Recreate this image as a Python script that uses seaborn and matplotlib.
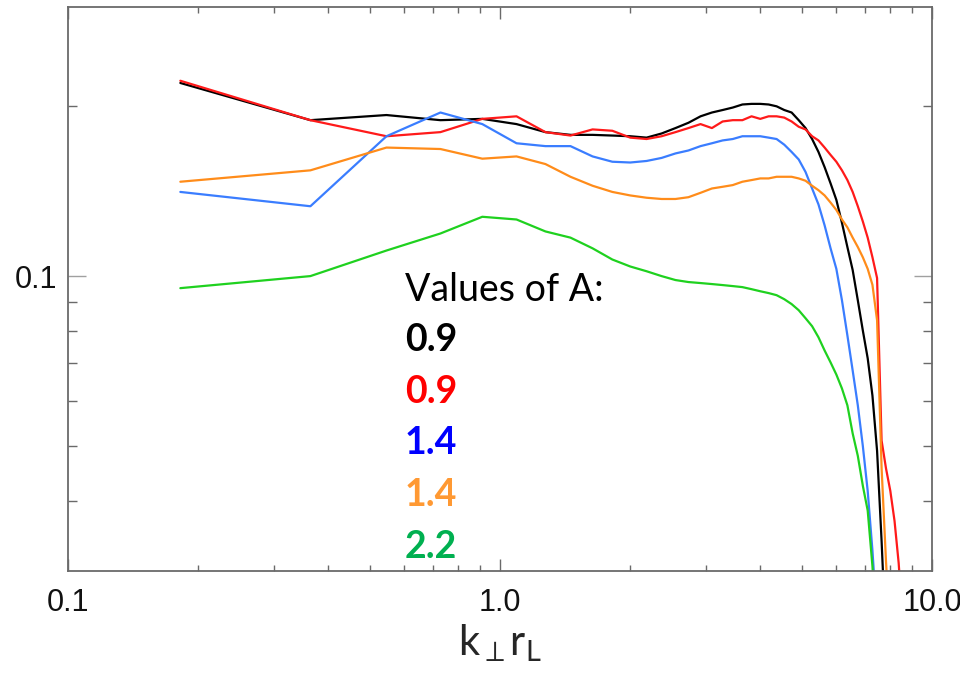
import numpy as np
import pandas as pd
import matplotlib
matplotlib.use("Agg")
import matplotlib.pyplot as plt
import matplotlib.ticker as mticker
import seaborn as sns

# Perpendicular wavenumber grid (k_perp * r_L)
k = [0.182, 0.364, 0.546, 0.728, 0.910, 1.092, 1.274, 1.456, 1.638, 1.820,
     2.002, 2.184, 2.366, 2.548, 2.730, 2.912, 3.094, 3.276, 3.458, 3.640,
     3.822, 4.004, 4.186, 4.368, 4.550, 4.732, 4.914, 5.096, 5.278, 5.460,
     5.642, 5.824, 6.006, 6.188, 6.370, 6.552, 6.734, 6.916, 7.098, 7.280,
     7.462, 7.644, 7.826, 8.008, 8.190, 8.372, 8.554]

run_black = [0.220, 0.189, 0.193, 0.189, 0.190, 0.186, 0.180, 0.178, 0.178, 0.1775,
             0.177, 0.176, 0.179, 0.183, 0.187, 0.192, 0.195, 0.197, 0.199, 0.2015,
             0.202, 0.202, 0.2015, 0.200, 0.197, 0.195, 0.189, 0.183, 0.175, 0.166,
             0.156, 0.146, 0.1365, 0.1243, 0.1126, 0.1025, 0.0906, 0.0801, 0.0715, 0.0614,
             0.0490, 0.0339, 0.0225]

run_red = [0.222, 0.189, 0.177, 0.180, 0.190, 0.192, 0.180, 0.1775, 0.182, 0.181,
           0.176, 0.175, 0.177, 0.180, 0.183, 0.186, 0.183, 0.188, 0.189, 0.189,
           0.192, 0.190, 0.192, 0.192, 0.191, 0.188, 0.184, 0.182, 0.177, 0.174,
           0.169, 0.164, 0.1595, 0.154, 0.148, 0.141, 0.133, 0.125, 0.117, 0.108,
           0.0992, 0.0511, 0.0456, 0.0416, 0.0368, 0.0310, 0.0244]

run_blue = [0.141, 0.133, 0.177, 0.195, 0.186, 0.172, 0.170, 0.170, 0.163, 0.1595,
            0.159, 0.160, 0.162, 0.165, 0.167, 0.170, 0.172, 0.174, 0.175, 0.177,
            0.177, 0.177, 0.176, 0.175, 0.171, 0.166, 0.161, 0.153, 0.143, 0.134,
            0.123, 0.112, 0.103, 0.0906, 0.0785, 0.0680, 0.0590, 0.0500, 0.0416, 0.0326,
            0.0244]

run_orange = [0.147, 0.154, 0.169, 0.168, 0.1615, 0.163, 0.158, 0.150, 0.1446, 0.141,
              0.139, 0.1377, 0.137, 0.137, 0.138, 0.1405, 0.143, 0.144, 0.145, 0.147,
              0.148, 0.149, 0.149, 0.150, 0.150, 0.150, 0.149, 0.1476, 0.1446, 0.142,
              0.139, 0.135, 0.131, 0.126, 0.122, 0.117, 0.1126, 0.108, 0.103, 0.0965,
              0.0835, 0.0457, 0.0312, 0.0225]

run_green = [0.0952, 0.100, 0.111, 0.119, 0.1274, 0.126, 0.120, 0.117, 0.112, 0.107,
             0.104, 0.102, 0.100, 0.0984, 0.0976, 0.0972, 0.0968, 0.0964, 0.0960, 0.0956,
             0.0948, 0.0940, 0.0933, 0.0925, 0.0910, 0.0892, 0.0870, 0.0842, 0.0815, 0.0779,
             0.0738, 0.0703, 0.0669, 0.0632, 0.0590, 0.0526, 0.0480, 0.0425, 0.0384, 0.0306,
             0.0225]

run_names = ["run 1", "run 2", "run 3", "run 4", "run 5"]
a_values = ["0.9", "0.9", "1.4", "1.4", "2.2"]
line_colors = ["#000000", "#ff1a1a", "#3a7dff", "#ff8c1a", "#1fd11f"]
text_colors = ["#000000", "#ff0000", "#0000ff", "#ff9933", "#00b050"]

series = [run_black, run_red, run_blue, run_orange, run_green]
frames = []
for name, vals in zip(run_names, series):
    frames.append(pd.DataFrame({"k": k[:len(vals)], "amp": vals, "run": name}))
df = pd.concat(frames, ignore_index=True)

sns.set_style("white")
plt.rcParams["font.family"] = ["Liberation Sans", "DejaVu Sans"]
plt.rcParams["mathtext.fontset"] = "custom"
plt.rcParams["mathtext.rm"] = "Lato"
plt.rcParams["mathtext.it"] = "Lato:italic"

fig = plt.figure(figsize=(9.6, 6.77), dpi=100)
ax = fig.add_axes([68 / 960, 106 / 677, 864 / 960, 564 / 677])

sns.lineplot(data=df, x="k", y="amp", hue="run", palette=dict(zip(run_names, line_colors)),
             estimator=None, sort=False, legend=False, linewidth=1.6, ax=ax)

ax.set_xscale("log")
ax.set_yscale("log")
ax.set_xlim(0.1, 10.0)
ax.set_ylim(0.03, 0.30)

ax.xaxis.set_major_locator(mticker.FixedLocator([0.1, 1.0, 10.0]))
ax.xaxis.set_major_formatter(mticker.FixedFormatter(["0.1", "1.0", "10.0"]))
ax.xaxis.set_minor_locator(mticker.FixedLocator([0.2, 0.3, 0.4, 0.5, 0.6, 0.7, 0.8, 0.9,
                                                  2, 3, 4, 5, 6, 7, 8, 9]))
ax.xaxis.set_minor_formatter(mticker.NullFormatter())
ax.yaxis.set_major_locator(mticker.FixedLocator([0.1]))
ax.yaxis.set_major_formatter(mticker.FixedFormatter(["0.1"]))
ax.yaxis.set_minor_locator(mticker.FixedLocator([0.04, 0.05, 0.06, 0.07, 0.08, 0.09, 0.2]))
ax.yaxis.set_minor_formatter(mticker.NullFormatter())

spine_color = "#6a6a6a"
for s in ax.spines.values():
    s.set_color(spine_color)
    s.set_linewidth(1.3)

ax.tick_params(axis="both", which="both", direction="in",
               top=True, right=True, bottom=True, left=True,
               color=spine_color, width=1.0, labelsize=22, labelcolor="#111111")
ax.tick_params(axis="x", which="major", length=8.5, pad=12)
ax.tick_params(axis="x", which="minor", length=4.5)
ax.tick_params(axis="y", which="major", length=13, pad=8, color="#a0a0a0")
ax.tick_params(axis="y", which="minor", length=6.5)
for lab in ax.get_xticklabels() + ax.get_yticklabels():
    lab.set_family(["Liberation Sans", "DejaVu Sans"])

ax.set_xlabel(r"$\mathrm{k}_{\perp}\mathrm{r}_{\mathrm{L}}$", fontsize=30, labelpad=4)
ax.set_ylabel("")

# Legend-style annotation of the A parameter for each run
ax.text(0.390, 0.498, "Values of A:", transform=ax.transAxes, ha="left", va="center",
        fontsize=27, family=["Lato", "DejaVu Sans"], color="#000000")
label_y = [0.4096, 0.3174, 0.2270, 0.1348, 0.0426]
for txt, col, yy in zip(a_values, text_colors, label_y):
    ax.text(0.390, yy, txt, transform=ax.transAxes, ha="left", va="center",
            fontsize=27, fontweight="bold", family=["Lato", "DejaVu Sans"], color=col)

fig.savefig("out.png", dpi=100)
